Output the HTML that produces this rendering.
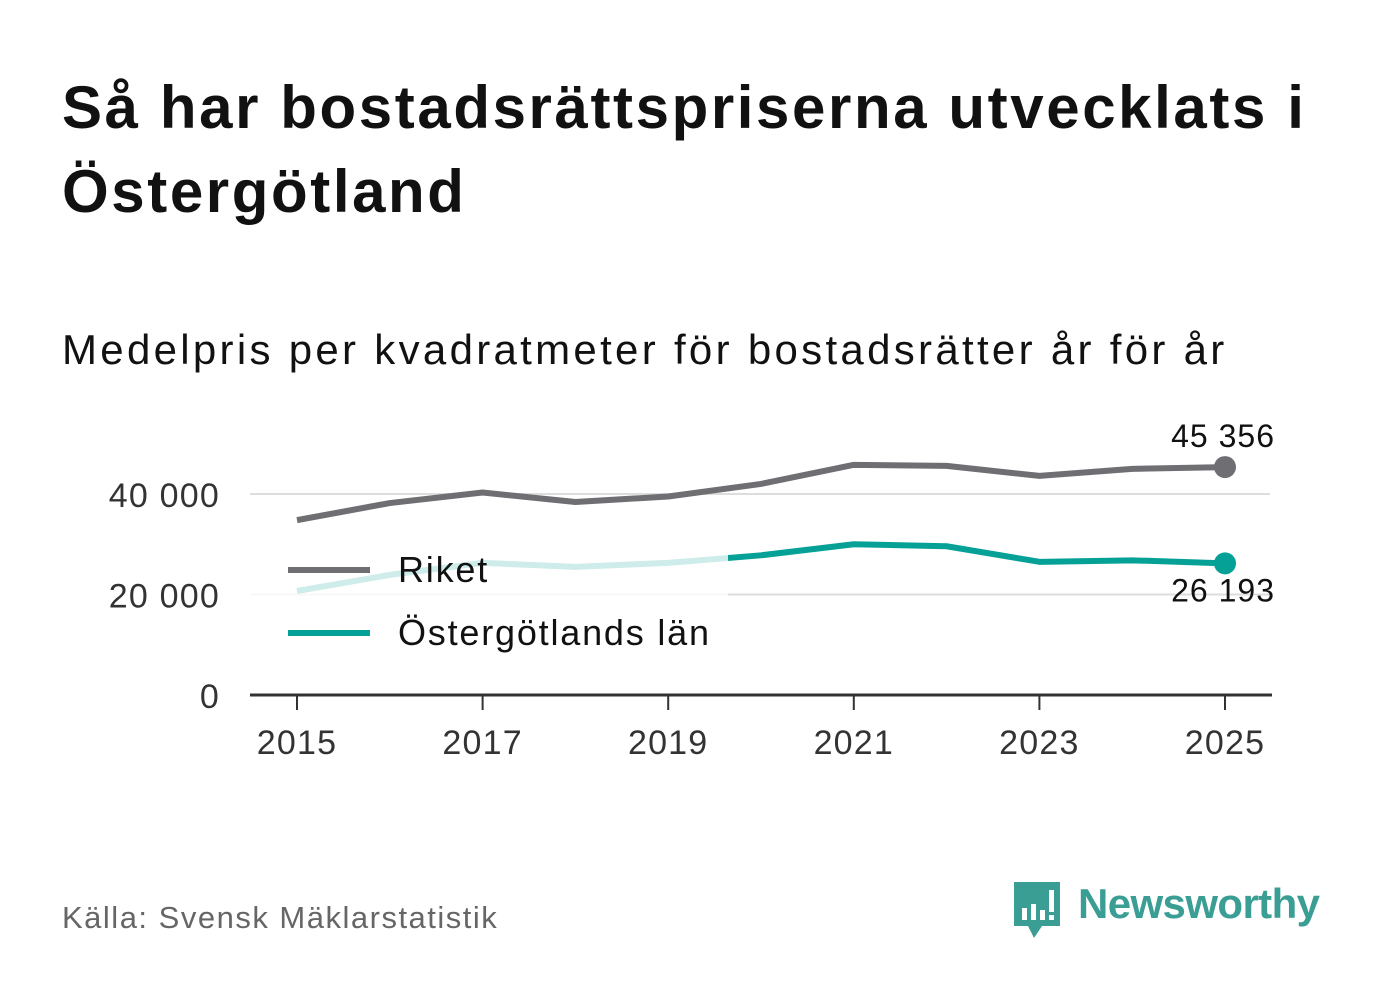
<!DOCTYPE html>
<html><head><meta charset="utf-8"><style>
body{margin:0;width:1382px;height:999px;background:#fff;font-family:"Liberation Sans","DejaVu Sans",sans-serif;overflow:hidden;position:relative}
.t{position:absolute;left:62px;top:66px;font-size:60px;font-weight:bold;color:#111;line-height:84px;letter-spacing:2.6px;white-space:nowrap}
.s{position:absolute;left:62px;top:326px;font-size:42px;color:#111;letter-spacing:3.3px;white-space:nowrap}
.src{position:absolute;left:62px;top:900px;font-size:31px;color:#666;letter-spacing:1.5px}
</style></head><body>
<div class="t">Så har bostadsrättspriserna utvecklats i<br>Östergötland</div>
<div class="s">Medelpris per kvadratmeter för bostadsrätter år för år</div>
<svg id="c" width="1382" height="999" style="position:absolute;left:0;top:0"></svg>
<div class="src">Källa: Svensk Mäklarstatistik</div>
<div style="position:absolute;left:1012px;top:880px">
<svg width="50" height="60"><path d="M2 2h46v44H30l-8 12-6-12H2z" fill="#3a9e94"/><rect x="10" y="28" width="5" height="12" fill="#fff"/><rect x="19" y="24" width="5" height="16" fill="#fff"/><rect x="28" y="30" width="5" height="10" fill="#fff"/><rect x="37" y="10" width="5" height="22" fill="#fff"/><rect x="37" y="35" width="5" height="5" fill="#fff"/></svg>
<span style="position:absolute;left:66px;top:0px;font-size:42px;color:#3a9e94;font-weight:bold;white-space:nowrap;letter-spacing:-0.6px">Newsworthy</span></div>
<script>
const years=[2015,2016,2017,2018,2019,2020,2021,2022,2023,2024,2025];
const riket=[34800,38200,40300,38400,39500,42000,45800,45600,43600,45000,45356];
const ostg=[20700,23900,26300,25500,26300,27800,30000,29600,26500,26800,26193];
const yTicks=[0,20000,40000];
const xTicks=[2015,2017,2019,2021,2023,2025];
const NS="http://www.w3.org/2000/svg",svg=document.getElementById('c');
const x=v=>297+(v-2015)*92.8, y=v=>695-v*0.005025;
function mk(t,a,p){const e=document.createElementNS(NS,t);for(const k in a)e.setAttribute(k,a[k]);(p||svg).appendChild(e);return e;}
const fmt=v=>String(v).replace(/\B(?=(\d{3})+(?!\d))/g," ");
const F='Liberation Sans, sans-serif';
yTicks.forEach(v=>{
 if(v>0){const g=mk('line',{x1:250,x2:1270,y1:y(v),y2:y(v),stroke:'#ddd','stroke-width':2});
 
 }
 const t=mk('text',{x:220,y:y(v)+13,'text-anchor':'end','font-size':34,fill:'#333','font-family':F,'letter-spacing':1.2});t.textContent=fmt(v);
 
 
});
xTicks.forEach(v=>{
 mk('line',{x1:x(v),x2:x(v),y1:695,y2:710,stroke:'#333','stroke-width':2});
 const t=mk('text',{x:x(v),y:754,'text-anchor':'middle','font-size':34,fill:'#333','font-family':F,'letter-spacing':1.2});t.textContent=v;
 
 
});
const ax=mk('line',{x1:250,x2:1272,y1:695,y2:695,stroke:'#333','stroke-width':3});


function series(d,col,name){
 const p=mk('polyline',{points:d.map((v,i)=>x(years[i])+','+y(v)).join(' '),fill:'none',stroke:col,'stroke-width':6,'stroke-linejoin':'round'});
 
 
 const c=mk('circle',{cx:x(years[years.length-1]),cy:y(d[d.length-1]),r:11,fill:col});
 
 
}
series(riket,'#6e6e73','riket');series(ostg,'#05a197','ostergotland');
const lb=mk('rect',{x:250,y:545,width:478,height:110,fill:'#fff','fill-opacity':0.8});


[['Riket','#6e6e73',570],['Östergötlands län','#05a197',633]].forEach(([n,c,yy])=>{
 const l=mk('line',{x1:288,x2:370,y1:yy,y2:yy,stroke:c,'stroke-width':6});
 
 
 const t=mk('text',{x:398,y:yy+12,'font-size':36,fill:'#111','font-family':F,'letter-spacing':1.8});t.textContent=n;
 
 
});
const l1=mk('text',{x:1275,y:y(riket[10])-20,'text-anchor':'end','font-size':32,fill:'#111','font-family':F,'letter-spacing':1});l1.textContent=fmt(riket[10]);


const l2=mk('text',{x:1275,y:y(ostg[10])+38,'text-anchor':'end','font-size':32,fill:'#111','font-family':F,'letter-spacing':1});l2.textContent=fmt(ostg[10]);


</script>
</body></html>
